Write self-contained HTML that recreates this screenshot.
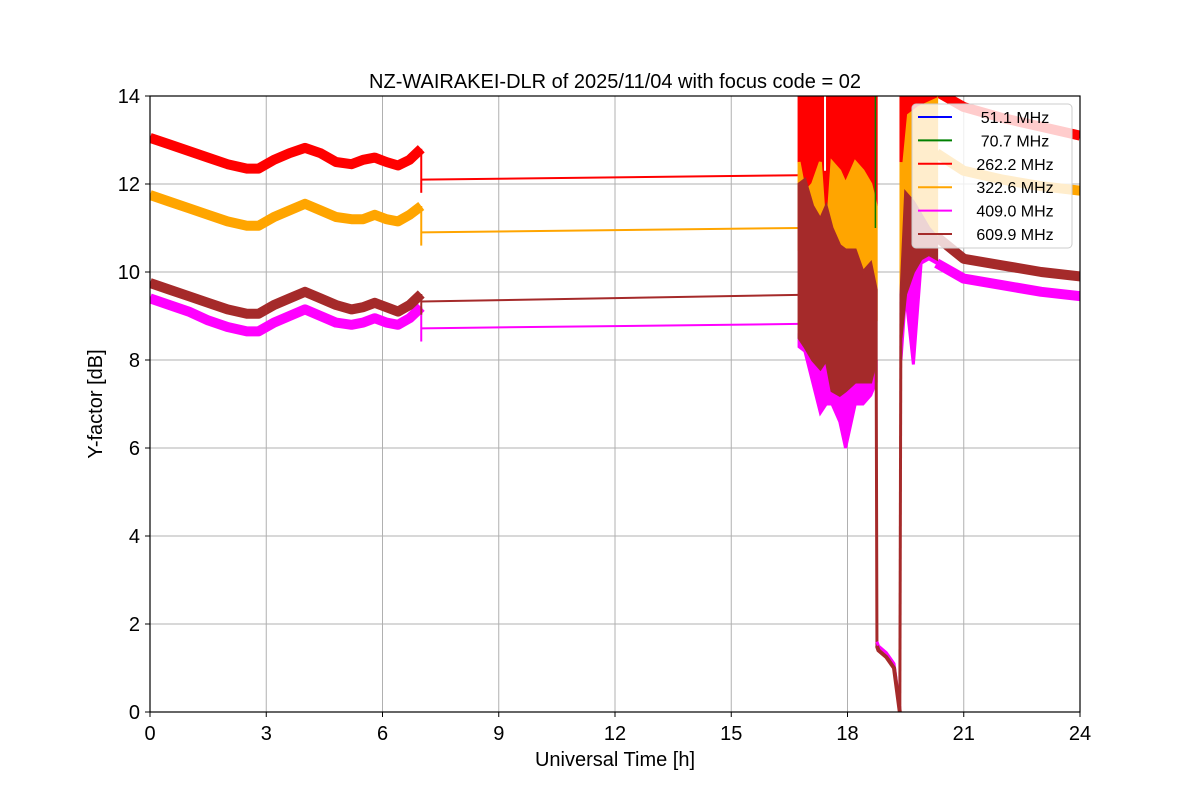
<!DOCTYPE html>
<html><head><meta charset="utf-8"><style>
body{margin:0;background:#fff}
svg text{font-family:"Liberation Sans","DejaVu Sans",sans-serif}
</style></head><body>
<svg id="chart" width="1200" height="800" viewBox="0 0 1200 800">
<rect width="1200" height="800" fill="#fff"/>
<g id="grid"></g>
<g id="plot"></g>
<rect x="150" y="96" width="930" height="616" fill="none" stroke="#000" stroke-width="1.2"/>
<g id="axes"></g>
<text x="615" y="88" font-size="20" text-anchor="middle">NZ-WAIRAKEI-DLR of 2025/11/04 with focus code = 02</text>
<text x="615" y="766" font-size="20" text-anchor="middle">Universal Time [h]</text>
<text x="102" y="404" font-size="20" text-anchor="middle" transform="rotate(-90 102 404)">Y-factor [dB]</text>
<g id="legend"></g>
</svg>
<script>
const xTicks=[0,3,6,9,12,15,18,21,24];
const yTicks=[0,2,4,6,8,10,12,14];
const labels=["51.1 MHz","70.7 MHz","262.2 MHz","322.6 MHz","409.0 MHz","609.9 MHz"];
const colors=["blue","green","red","orange","magenta","#a52a2a"];
const t1=[0,0.5,1,1.5,2,2.5,2.8,3.2,3.6,4,4.4,4.8,5.2,5.5,5.8,6.1,6.4,6.7,7.0];
const red1=[13.05,12.9,12.75,12.6,12.45,12.35,12.35,12.55,12.7,12.82,12.7,12.5,12.45,12.55,12.6,12.5,12.42,12.55,12.8];
const orange1=[11.75,11.6,11.45,11.3,11.15,11.05,11.05,11.25,11.4,11.55,11.4,11.25,11.2,11.2,11.3,11.2,11.15,11.3,11.5];
const brown1=[9.75,9.6,9.45,9.3,9.15,9.05,9.05,9.25,9.4,9.55,9.4,9.25,9.15,9.2,9.3,9.2,9.1,9.25,9.5];
const magenta1=[9.4,9.25,9.1,8.9,8.75,8.65,8.65,8.85,9.0,9.15,9.0,8.85,8.8,8.85,8.95,8.85,8.8,8.95,9.2];
const tGap=[7.0,16.75];
const redGap=[12.1,12.2];
const orangeGap=[10.9,11.0];
const brownGap=[9.33,9.48];
const magentaGap=[8.72,8.82];
const tC=[16.75,16.9,17.1,17.3,17.45,17.6,17.8,17.95,18.2,18.4,18.6,18.74];
const redHi=[14,14,14,14,14,14,14,14,14,14,14,14];
const redLo=[12.5,11.8,12,12.5,10.6,12.5,12.3,12,12.5,12.3,12,11.5];
const orangeLo=[10.5,10.4,10,10.5,9.5,10,9.5,9.2,9,9,9.2,9];
const brownHi=[12,12.1,11.5,11.2,11.5,11,10.6,10.5,10.5,10,10.2,9.6];
const brownLo=[8.5,8.3,8,7.8,8,7.3,7.2,7.3,7.5,7.5,7.5,8];
const magentaLo=[8.3,8.2,7.5,6.8,7.0,7.0,6.6,6.0,7.0,7.0,7.2,7.5];
const tD=[18.76,18.8,19.0,19.2,19.35];
const dropV=[1.5,1.4,1.25,1.0,0.0];
const tC2=[19.38,19.5,19.7,19.9,20.1,20.3];
const brown2Hi=[9.5,11.8,11.6,11.3,11.0,10.8];
const brown2Lo=[8.5,9.5,10.0,10.3,10.4,10.3];
const magenta2Lo=[8.0,9.5,7.9,10.2,10.3,10.2];
const tT=[20.3,21,22,23,24];
const redT=[14.1,13.75,13.5,13.3,13.1];
const orangeT=[12.7,12.3,12.1,11.95,11.85];
const brownT=[10.8,10.3,10.15,10.0,9.9];
const magentaT=[10.2,9.85,9.7,9.55,9.45];

const NS="http://www.w3.org/2000/svg";
const X=t=>150+t*930/24, Y=v=>712-v*616/14;
function mk(tag,attrs,parent){const e=document.createElementNS(NS,tag);for(const k in attrs)e.setAttribute(k,attrs[k]);parent.appendChild(e);return e;}
const grid=document.getElementById('grid'),axes=document.getElementById('axes'),plot=document.getElementById('plot'),leg=document.getElementById('legend');
xTicks.forEach(t=>{
 const l=mk('line',{x1:X(t),x2:X(t),y1:96,y2:712,stroke:'#b0b0b0','stroke-width':1},grid);
 
 mk('line',{x1:X(t),x2:X(t),y1:712,y2:717,stroke:'#000'},axes);
 const tx=mk('text',{x:X(t),y:740,'font-size':20,'text-anchor':'middle'},axes);tx.textContent=t;
 
});
yTicks.forEach(v=>{
 const l=mk('line',{x1:150,x2:1080,y1:Y(v),y2:Y(v),stroke:'#b0b0b0','stroke-width':1},grid);
 
 mk('line',{x1:145,x2:150,y1:Y(v),y2:Y(v),stroke:'#000'},axes);
 const tx=mk('text',{x:140,y:Y(v)+7,'font-size':20,'text-anchor':'end'},axes);tx.textContent=v;
 
});
const cp=mk('clipPath',{id:'cp'},plot);mk('rect',{x:150,y:96,width:930,height:616},cp);
const g=mk('g',{'clip-path':'url(#cp)'},plot);
function line(ts,vs,c,w,name){const e=mk('polyline',{points:ts.map((t,i)=>X(t)+','+Y(vs[i])).join(' '),fill:'none',stroke:c,'stroke-width':w,'stroke-linejoin':'round'},g);
 }
function band(ts,hi,lo,c,name){const p=ts.map((t,i)=>X(t)+','+Y(hi[i])).concat(ts.map((t,i)=>X(t)+','+Y(lo[i])).reverse());
 const e=mk('polygon',{points:p.join(' '),fill:c,stroke:c,'stroke-width':3},g);
 }
const S=[[red1,redGap,redT,'red','series-262mhz'],[orange1,orangeGap,orangeT,'orange','series-322mhz'],[brown1,brownGap,brownT,'#a52a2a','series-609mhz'],[magenta1,magentaGap,magentaT,'magenta','series-409mhz']];
[S[0],S[1],S[3],S[2]].forEach(s=>{line(t1,s[0],s[3],10,s[4]);line(tGap,s[1],s[3],2,s[4]+'-gap');
 line([7.0,7.0],[s[0][s[0].length-1],s[1][0]-0.3],s[3],2,s[4]+'-step');line(tT,s[2],s[3],10,s[4]+'-tail');
 line([16.75,16.75],[s[1][1],14],s[3],2,s[4]+'-rise');});
band(tC,redHi,redLo,'red','chaos-262mhz');
band(tC,redLo,orangeLo,'orange','chaos-322mhz');
band(tC,brownLo,magentaLo,'magenta','chaos-409mhz');
band(tC,brownHi,brownLo,'#a52a2a','chaos-609mhz');
line([17.42,17.42],[14,12.3],'#fff',2,'data-gap');
band(tC2,tC2.map(()=>14),brown2Hi,'orange','chaos2-322mhz');
band([19.38,19.5,19.8,20.3],[14,14,14,14],[12.5,13.6,13.8,14],'red','chaos2-262mhz');
band(tC2,brown2Lo,magenta2Lo,'magenta','chaos2-409mhz');
band(tC2,brown2Hi,brown2Lo,'#a52a2a','chaos2-609mhz');
line([18.74].concat(tD),[8].concat(dropV),'#a52a2a',3,'drop-609mhz');
line(tD,dropV.map(v=>v+0.1),'magenta',3,'drop-409mhz');
line(tD,dropV,'#a52a2a',4,'drop-609mhz-band');
line([19.35,19.38],[0,9.5],'#a52a2a',3,'recovery-609mhz');
line([18.72,18.72],[14,11],'green',1.5,'spike-70mhz');
const lb=mk('rect',{x:912,y:104,width:160,height:144,rx:4,fill:'#fff','fill-opacity':0.8,stroke:'#ccc'},leg);

labels.forEach((lab,i)=>{const y=117+i*23.4;
 const ln=mk('line',{x1:918,x2:952,y1:y,y2:y,stroke:colors[i],'stroke-width':2},leg);
 
 const tx=mk('text',{x:1015,y:y+6,'font-size':16,'text-anchor':'middle'},leg);tx.textContent=lab;
 });
</script>
</body></html>
